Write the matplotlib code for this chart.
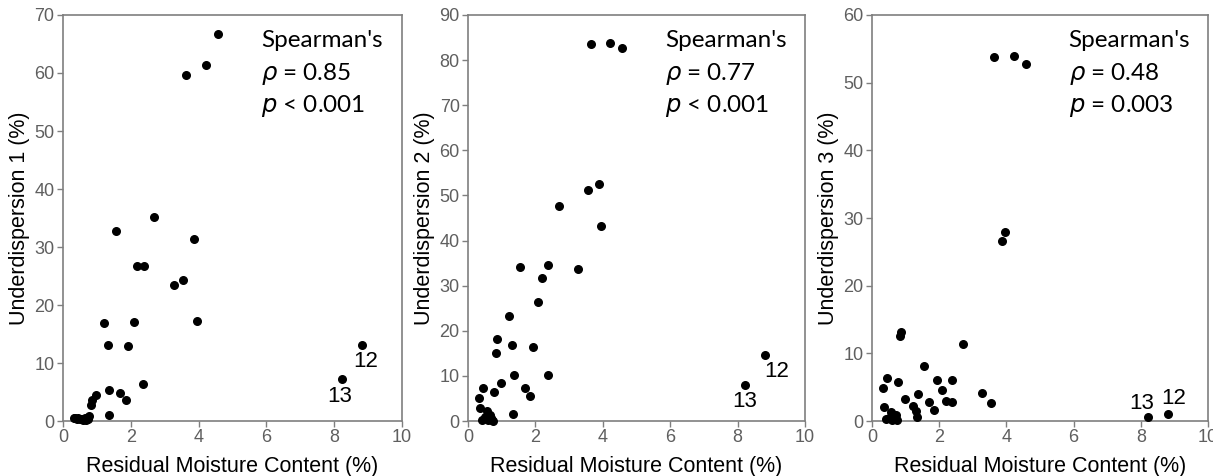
import matplotlib
matplotlib.use('Agg')
import matplotlib.pyplot as plt

# residual moisture content (%) per sample, shared by all three panels
moisture = [4.57, 4.22, 3.64, 2.70, 1.55, 3.88, 2.19, 2.38, 3.27, 3.55,
            3.96, 1.22, 2.09, 1.32, 1.93, 8.82, 8.22, 2.37, 1.36, 1.69,
            1.85, 0.97, 0.86, 0.83, 1.35, 0.77, 0.45, 0.34, 0.37, 0.55,
            0.60, 0.65, 0.50, 0.72, 0.58, 0.68, 0.75, 0.42]

under1 = [66.7, 61.3, 59.7, 35.2, 32.8, 31.4, 26.8, 26.8, 23.5, 24.3,
          17.3, 16.9, 17.0, 13.1, 13.0, 13.1, 7.3, 6.4, 5.3, 4.9,
          3.7, 4.5, 3.6, 2.8, 1.1, 0.8, 0.5, 0.5, 0.5, 0.4,
          0.3, 0.5, 0.3, 0.6, 0.2, 0.2, 0.3, 0.3]

under2 = [82.7, 83.9, 83.5, 47.7, 34.2, 52.5, 31.7, 34.6, 33.6, 51.3,
          43.2, 23.3, 26.4, 16.9, 16.5, 14.6, 8.0, 10.1, 10.3, 7.4,
          5.6, 8.5, 18.1, 15.1, 1.5, 6.4, 7.4, 5.2, 2.9, 2.2,
          1.6, 1.3, 0.8, 0.3, 0.2, 0.6, 0.1, 0.2]

under3 = [52.7, 53.9, 53.8, 11.4, 8.1, 26.6, 2.9, 6.0, 4.1, 2.7,
          27.9, 2.2, 4.6, 1.5, 6.0, 1.1, 0.6, 2.8, 4.0, 2.8,
          1.7, 3.3, 13.2, 12.5, 0.6, 5.7, 6.3, 4.9, 2.1, 1.3,
          1.0, 0.7, 0.4, 0.9, 0.2, 0.3, 0.1, 0.3]

panels = [
    ('Underdispersion 1 (%)', under1, 70, '0.85', '<', '0.001',
     {12: (3, -12), 13: (-1.5, -13)}),
    ('Underdispersion 2 (%)', under2, 90, '0.77', '<', '0.001',
     {12: (8, -12), 13: (0, -12)}),
    ('Underdispersion 3 (%)', under3, 60, '0.48', '=', '0.003',
     {12: (4, 11), 13: (-5, 10)}),
]
# index of the labelled samples in the arrays above
labelled = {12: 15, 13: 16}

fig = plt.figure(figsize=(12.13, 4.76), dpi=100)
lefts = [0.0519, 0.3858, 0.7189]
widths = [0.2795, 0.2778, 0.2770]

tick_col = '#5f5f5f'
spine_col = '#7f7f7f'

for i, (ylab, yv, ymax, rho, op, pval, offs) in enumerate(panels):
    ax = fig.add_axes([lefts[i], 0.1155, widths[i], 0.853])
    ax.scatter(moisture, yv, s=30, color='black', zorder=3, clip_on=False)
    ax.set_xlim(0, 10)
    ax.set_ylim(0, ymax)
    ax.set_xticks([0, 2, 4, 6, 8, 10])
    ax.set_yticks(range(0, ymax + 1, 10))
    for sp in ax.spines.values():
        sp.set_color(spine_col)
        sp.set_linewidth(1.2)
    ax.tick_params(direction='out', length=4, width=1, color=spine_col,
                   labelsize=13, labelcolor=tick_col, pad=2)
    for lab in ax.get_xticklabels() + ax.get_yticklabels():
        lab.set_family('Liberation Sans')
    ax.set_xlabel('Residual Moisture Content (%)', fontsize=15.5,
                  family='Liberation Sans', labelpad=7)
    ax.set_ylabel(ylab, fontsize=15.5, family='Liberation Sans', labelpad=3)

    ax.text(0.585, 0.938, "Spearman's", transform=ax.transAxes,
            fontsize=17.5, family='Lato', va='center')
    ax.text(0.585, 0.855, r'$\rho$ = ' + rho, transform=ax.transAxes,
            fontsize=17.5, family='Lato', va='center')
    ax.text(0.585, 0.775, r'$p$ ' + op + ' ' + pval, transform=ax.transAxes,
            fontsize=17.5, family='Lato', va='center')

    for num, idx in labelled.items():
        ax.annotate(str(num), (moisture[idx], yv[idx]), xytext=offs[num],
                    textcoords='offset points', ha='center', va='center',
                    fontsize=16, family='Liberation Sans')

fig.savefig('out.png', dpi=100)
